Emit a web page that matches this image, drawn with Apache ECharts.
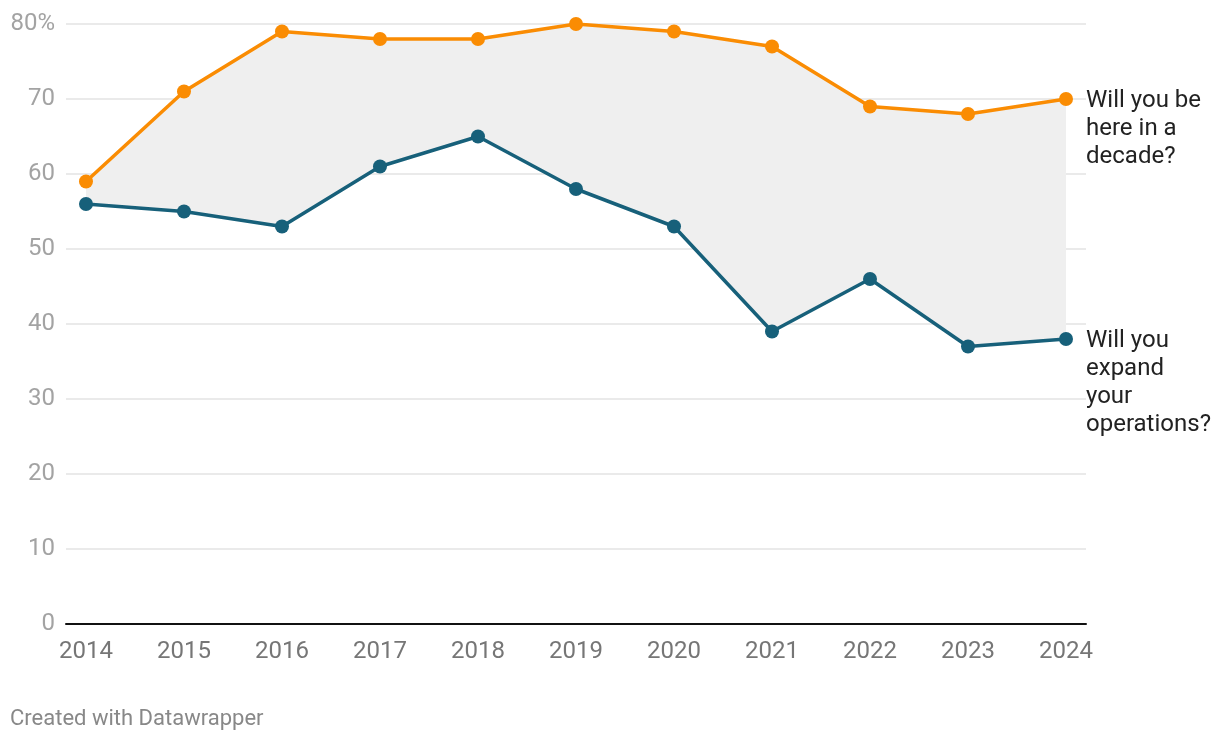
<!DOCTYPE html>
<html><head><meta charset="utf-8">
<script src="https://cdn.jsdelivr.net/npm/echarts@6/dist/echarts.min.js"></script>
<style>html,body{margin:0;padding:0;background:#fff}#c{width:1220px;height:740px}</style>
</head><body><div id="c"></div>
<script>
const years = [2014,2015,2016,2017,2018,2019,2020,2021,2022,2023,2024];
const decade = [59,71,79,78,78,80,79,77,69,68,70];
const expand = [56,55,53,61,65,58,53,39,46,37,38];
const yTicks = [0,10,20,30,40,50,60,70,80];
const labelDecade = 'Will you be\nhere in a\ndecade?';
const labelExpand = 'Will you\nexpand\nyour\noperations?';

const ORANGE = '#fa8c03', BLUE = '#17607a';
const pad = 0.204;
const pts = a => a.map((v,i)=>[years[i], v]);

const chart = echarts.init(document.getElementById('c'));
chart.setOption({
  animation:false,
  textStyle:{fontFamily:'Roboto'},
  grid:{left:66,right:134,top:24,bottom:116,containLabel:false},
  xAxis:{type:'value',min:years[0]-pad,max:years[years.length-1]+pad,
    splitLine:{show:false},
    axisLine:{show:true,onZero:false,lineStyle:{color:'#111',width:2}},
    axisTick:{show:false},
    axisLabel:{customValues:years,color:'#767676',fontSize:24,margin:16,formatter:v=>String(v)}},
  yAxis:{type:'value',min:0,max:80,interval:10,
    axisLine:{show:false},axisTick:{show:false},
    splitLine:{lineStyle:{color:'#e3e3e3',width:1.5}},
    axisLabel:{color:'#a3a3a3',fontSize:24,margin:11,formatter:v=>v===80?v+'%':String(v)}},
  series:[
    {type:'custom',silent:true,z:1,data:[0],
      renderItem:(params,api)=>{
        const top = decade.map((v,i)=>api.coord([years[i],v]));
        const bot = expand.map((v,i)=>api.coord([years[i],v])).reverse();
        return {type:'polygon',shape:{points:top.concat(bot)},style:{fill:'#efefef'}};
      }},
    {type:'line',data:pts(decade),symbol:'circle',symbolSize:14,itemStyle:{color:ORANGE},lineStyle:{color:ORANGE,width:3.5},z:3,
      endLabel:{show:true,formatter:()=>labelDecade,color:'#222',fontSize:24,lineHeight:28,align:'left',verticalAlign:'top',distance:20,offset:[0,-12]}},
    {type:'line',data:pts(expand),symbol:'circle',symbolSize:14,itemStyle:{color:BLUE},lineStyle:{color:BLUE,width:3.5},z:3,
      endLabel:{show:true,formatter:()=>labelExpand,color:'#222',fontSize:24,lineHeight:28,align:'left',verticalAlign:'top',distance:20,offset:[0,-12]}}
  ],
  graphic:[{type:'text',left:10,top:708,style:{text:'Created with Datawrapper',fill:'#888',font:'22px Roboto'}}]
});
</script></body></html>
